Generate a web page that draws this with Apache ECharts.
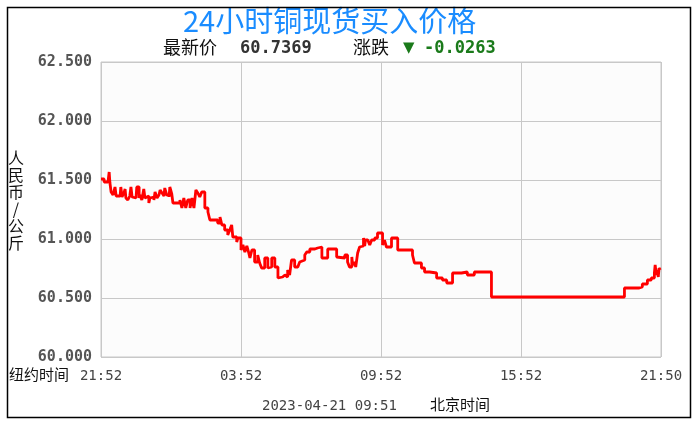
<!DOCTYPE html>
<html>
<head>
<meta charset="utf-8">
<title>24小时铜现货买入价格</title>
<script src="https://cdn.jsdelivr.net/npm/echarts@6/dist/echarts.min.js"></script>
<style>
	html, body { margin: 0; padding: 0; background: #fff; }
	#chart { width: 697px; height: 431px; }
</style>
</head>
<body>
<div id="chart"></div>
<script>
// minutes after 21:52 (New York), step data
var minutes = [0, 8, 18, 21, 23, 26, 31, 36, 39, 49, 51, 54, 59, 62, 64, 69, 74, 77, 80, 85,
	90, 92, 98, 100, 105, 110, 113, 118, 123, 126, 131, 136, 139, 144, 149, 152, 157, 162, 164, 169,
	175, 177, 182, 185, 203, 208, 213, 218, 223, 229, 234, 239, 244, 249, 254, 259, 267, 275, 280, 300,
	306, 311, 318, 326, 331, 336, 339, 349, 352, 360, 365, 370, 375, 380, 383, 388, 395, 403, 408, 413,
	421, 429, 434, 439, 447, 455, 460, 467, 473, 480, 485, 490, 498, 506, 511, 516, 524, 529, 537, 550,
	557, 568, 583, 606, 609, 627, 634, 639, 645, 647, 652, 655, 660, 665, 670, 675, 678, 680, 686, 691,
	696, 704, 711, 724, 729, 734, 747, 763, 801, 806, 824, 832, 845, 863, 878, 889, 904, 927, 942, 960,
	1004, 1346, 1384, 1392, 1405, 1415, 1423, 1425, 1428, 1430, 1433, 1435, 1438];

var prices = [61.5085, 61.4831, 61.4746, 61.5678, 61.4746, 61.3983, 61.3729, 61.4407, 61.3644, 61.3475,
	61.4407, 61.3559, 61.3898, 61.4237, 61.3475, 61.3305, 61.3644, 61.4407, 61.3559, 61.3475,
	61.3644, 61.4407, 61.3475, 61.3729, 61.3305, 61.4237, 61.3475, 61.3644, 61.3051, 61.3475,
	61.3559, 61.3305, 61.3983, 61.3475, 61.3729, 61.4153, 61.3898, 61.3644, 61.4322, 61.3729,
	61.3559, 61.4407, 61.3814, 61.3051, 61.3305, 61.2627, 61.3475, 61.2627, 61.3305, 61.2627,
	61.3475, 61.2627, 61.4153, 61.3898, 61.3559, 61.3983, 61.2627, 61.2288, 61.1610, 61.1356,
	61.1864, 61.1186, 61.0763, 61.0339, 61.0763, 61.1186, 61.0169, 60.9746, 61.0085, 60.9068,
	60.9492, 60.8898, 60.9407, 60.8814, 60.8390, 60.9068, 60.8051, 60.8644, 60.7966, 60.7542,
	60.8390, 60.7542, 60.7627, 60.8390, 60.7627, 60.6695, 60.6780, 60.6949, 60.6780, 60.7373,
	60.6949, 60.8220, 60.7627, 60.7542, 60.8051, 60.8220, 60.8644, 60.8898, 60.9153, 60.9237,
	60.9322, 60.8390, 60.9153, 60.8475, 60.8390, 60.8644, 60.8051, 60.7627, 60.8475, 60.7797,
	60.8051, 60.7627, 60.8814, 60.9322, 60.9407, 61.0085, 60.9407, 60.9915, 60.9746, 60.9492,
	60.9915, 61.0085, 61.0508, 60.9492, 60.9915, 60.9322, 61.0085, 60.9068, 60.8644, 60.7966,
	60.7542, 60.7203, 60.7119, 60.6695, 60.6525, 60.6271, 60.7119, 60.7203, 60.6949, 60.7203,
	60.5085, 60.5847, 60.5932, 60.6186, 60.6525, 60.6695, 60.7119, 60.7797, 60.6949, 60.7373,
	60.6780, 60.7542, 60.7369];

var timeLabels = ['21:52', '03:52', '09:52', '15:52', '21:50'];
var yTicks = [60, 60.5, 61, 61.5, 62, 62.5];

var chart = echarts.init(document.getElementById('chart'));

var seriesData = [];
for (var i = 0; i < minutes.length; i++) {
	seriesData.push([minutes[i], prices[i]]);
}

var cjk = '"Noto Sans CJK SC", sans-serif';
var mono = '"DejaVu Sans Mono", monospace';

chart.setOption({
	backgroundColor: '#fff',
	animation: false,
	grid: {
		left: 101,
		right: 36,
		top: 62,
		bottom: 74,
		show: true,
		backgroundColor: '#fcfcfc',
		borderColor: '#c8c8c8',
		borderWidth: 1
	},
	xAxis: {
		type: 'value',
		min: 0,
		max: 1440,
		interval: 360,
		axisLine: { show: false },
		axisTick: { show: false },
		splitLine: { lineStyle: { color: '#c8c8c8', width: 1 } },
		axisLabel: {
			margin: 12,
			color: '#444',
			fontFamily: mono,
			fontSize: 14,
			formatter: function(v) {
				return timeLabels[Math.round(v / 360)];
			}
		}
	},
	yAxis: {
		type: 'value',
		min: yTicks[0],
		max: yTicks[yTicks.length - 1],
		interval: 0.5,
		axisLine: { show: false },
		axisTick: { show: false },
		splitLine: { lineStyle: { color: '#c8c8c8', width: 1 } },
		axisLabel: {
			margin: 9,
			color: '#555',
			fontFamily: mono,
			fontWeight: 'bold',
			fontSize: 15,
			formatter: function(v) {
				return v.toFixed(3);
			}
		}
	},
	series: [{
		name: '买入价',
		type: 'line',
		step: 'end',
		showSymbol: false,
		lineStyle: { color: '#ff0000', width: 2.8 },
		data: seriesData
	}],
	graphic: [
		{
			type: 'rect',
			shape: { x: 7.5, y: 7.5, width: 683, height: 410 },
			style: { fill: 'none', stroke: '#000', lineWidth: 1.5 },
			z: 100
		},
		{
			type: 'text', x: 183, y: 6,
			style: { text: '24小时铜现货买入价格', fill: '#1a8cff', font: '29px ' + cjk }
		},
		{
			type: 'text', x: 163, y: 38,
			style: { text: '最新价', fill: '#111', font: '18px ' + cjk }
		},
		{
			type: 'text', x: 240, y: 40,
			style: { text: '60.7369', fill: '#333', font: 'bold 17px ' + mono }
		},
		{
			type: 'text', x: 353, y: 38,
			style: { text: '涨跌', fill: '#111', font: '18px ' + cjk }
		},
		{
			type: 'text', x: 403, y: 39,
			style: { text: '▼', fill: '#1a7a1a', font: '19px ' + mono }
		},
		{
			type: 'text', x: 424, y: 40,
			style: { text: '-0.0263', fill: '#1a7a1a', font: 'bold 17px ' + mono }
		},
		{
			type: 'text', x: 16, y: 200,
			style: {
				text: '人\n民\n币\n/\n公\n斤',
				fill: '#111',
				font: '16px ' + cjk,
				lineHeight: 17,
				align: 'center',
				verticalAlign: 'middle'
			}
		},
		{
			type: 'text', x: 9, y: 367,
			style: { text: '纽约时间', fill: '#111', font: '15px ' + cjk }
		},
		{
			type: 'text', x: 262, y: 399,
			style: { text: '2023-04-21 09:51', fill: '#444', font: '14px ' + mono }
		},
		{
			type: 'text', x: 430, y: 397,
			style: { text: '北京时间', fill: '#111', font: '15px ' + cjk }
		}
	]
});
</script>
</body>
</html>
